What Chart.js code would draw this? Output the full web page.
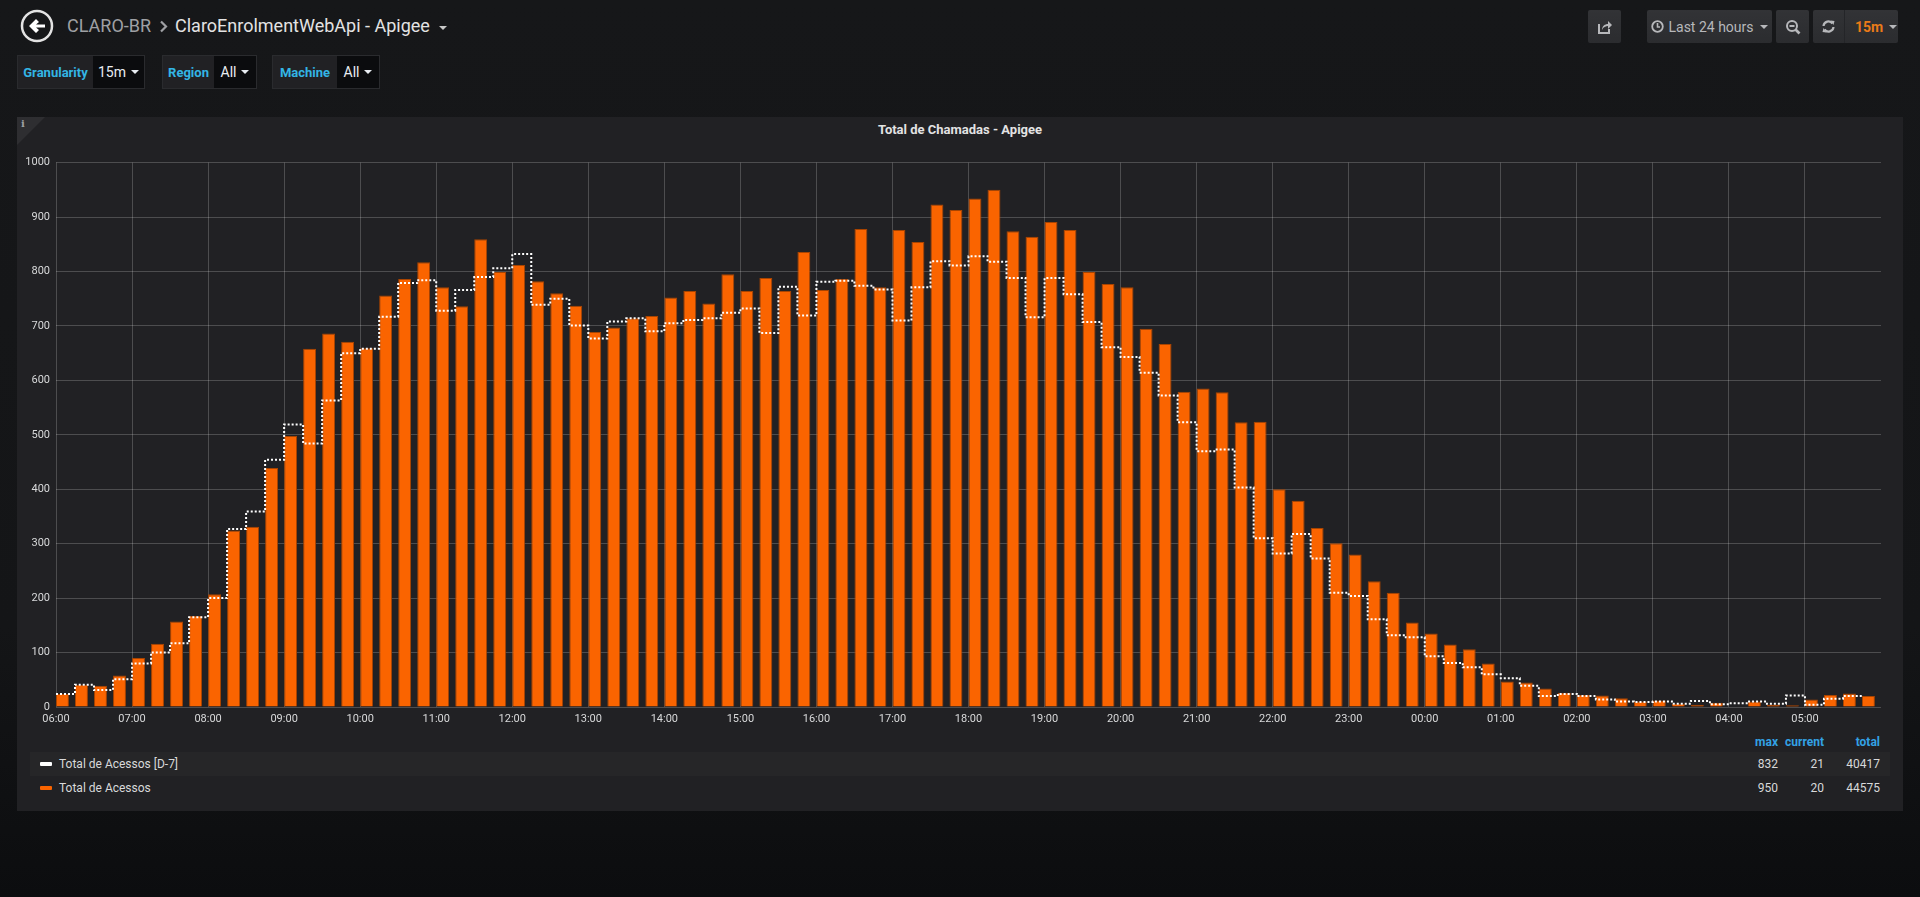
<!DOCTYPE html>
<html>
<head>
<meta charset="utf-8">
<title>ClaroEnrolmentWebApi - Apigee</title>
<script src="https://cdn.jsdelivr.net/npm/chart.js@4.4.0/dist/chart.umd.min.js"></script>
<style>
  html, body { margin: 0; padding: 0; }
  body {
    width: 1920px; height: 897px; overflow: hidden; position: relative;
    background: linear-gradient(#161719 0%, #141517 70%, #0c0d0f 100%);
    font-family: Roboto, "Helvetica Neue", Arial, sans-serif;
    color: #d8d9da;
  }
  .abs { position: absolute; }
  .crumb { left: 67px; top: 13px; height: 26px; line-height: 26px; font-size: 18px; white-space: nowrap; }
  .crumb .folder { color: #9fa0a4; }
  .caret { display: inline-block; width: 0; height: 0; border-left: 4px solid transparent; border-right: 4px solid transparent; border-top: 4px solid #c8c8c8; vertical-align: middle; }
  .var { top: 55px; height: 34px; display: flex; font-size: 13px; }
  .var .lbl { background: #212124; color: #33b5e5; font-weight: bold; display: flex; align-items: center; justify-content: center; border: 1px solid #2a2b2e; border-right: none; box-sizing: border-box; }
  .var .val { background: #0b0c0e; color: #e9edf2; display: flex; align-items: center; justify-content: center; font-size: 14px; border: 1px solid #2a2b2e; border-left: none; box-sizing: border-box; }
  .var .val .caret { margin-left: 5px; border-top-color: #e9edf2; }
  .btn { top: 10px; height: 33px; background: linear-gradient(#323336, #2b2c2f); border-radius: 2px; display: flex; align-items: center; justify-content: center; color: #b7b8bb; font-size: 14px; box-sizing: border-box; }
  .panel { left: 17px; top: 117px; width: 1886px; height: 694px; background: #212124; }
  .corner { left: 17px; top: 117px; width: 0; height: 0; border-top: 28px solid #2e2e31; border-right: 28px solid transparent; }
  .info { left: 21px; top: 118px; font-size: 10px; color: #9fa0a4; font-family: "DejaVu Serif", serif; font-weight: bold; }
  .ptitle { left: 17px; width: 1886px; top: 122px; text-align: center; font-size: 13px; font-weight: bold; color: #e3e3e3; }
  #chartBox { position: absolute; left: 17px; top: 150px; width: 1886px; height: 579px; }
  .lg { font-size: 12px; line-height: 24px; height: 24px; white-space: nowrap; }
  .lg .num { position: absolute; text-align: right; }
  .lgHead { color: #33a2e5; font-weight: bold; }
  .sw { position: absolute; top: 10px; width: 12px; height: 4px; border-radius: 1px; }
</style>
</head>
<body>

<!-- header -->
<svg class="abs" style="left:20px;top:9px" width="34" height="34" viewBox="0 0 34 34">
  <circle cx="17" cy="17" r="15" fill="none" stroke="#e3e3e3" stroke-width="2.5"/>
  <path d="M9 17 L16 10 L19 13 L16 15.5 L25 15.5 L25 18.5 L16 18.5 L19 21 L16 24 Z" fill="#ffffff"/>
</svg>
<div class="abs crumb"><span class="folder">CLARO-BR</span></div>
<svg class="abs" style="left:159px;top:20px" width="10" height="13" viewBox="0 0 10 13">
  <path d="M2 1.5 L7 6.5 L2 11.5" fill="none" stroke="#9fa0a4" stroke-width="2.2"/>
</svg>
<div class="abs crumb" style="left:175px;color:#e3e3e3">ClaroEnrolmentWebApi - Apigee</div>
<div class="abs" style="left:439px;top:17px"><span class="caret" style="border-top-color:#c8c8c8"></span></div>

<div class="abs var" style="left:17px"><div class="lbl" style="width:76px">Granularity</div><div class="val" style="width:52px">15m<span class="caret"></span></div></div>
<div class="abs var" style="left:162px"><div class="lbl" style="width:52px">Region</div><div class="val" style="width:43px">All<span class="caret"></span></div></div>
<div class="abs var" style="left:272px"><div class="lbl" style="width:65px">Machine</div><div class="val" style="width:43px">All<span class="caret"></span></div></div>

<div class="abs btn" style="left:1588px;width:33px">
  <svg width="16" height="16" viewBox="0 0 16 16"><path d="M2 5 L2 14 L12 14 L12 10" fill="none" stroke="#b7b8bb" stroke-width="2"/><path d="M5 11 C5 7 8 5 11 5 L11 2 L15 6 L11 10 L11 7 C9 7 6 8 5 11 Z" fill="#b7b8bb"/></svg>
</div>
<div class="abs btn" style="left:1647px;width:125px">
  <svg width="13" height="13" viewBox="0 0 13 13" style="margin-right:4px"><circle cx="6.5" cy="6.5" r="5.3" fill="none" stroke="#b7b8bb" stroke-width="1.8"/><path d="M6.5 3 L6.5 7 L9 7" fill="none" stroke="#b7b8bb" stroke-width="1.6"/></svg>
  <span>Last 24 hours</span><span class="caret" style="margin-left:6px;border-top-color:#b7b8bb"></span>
</div>
<div class="abs btn" style="left:1776px;width:33px">
  <svg width="16" height="16" viewBox="0 0 16 16"><circle cx="7" cy="7" r="5" fill="none" stroke="#b7b8bb" stroke-width="2"/><path d="M4.5 7 L9.5 7" stroke="#b7b8bb" stroke-width="2"/><path d="M10.5 10.5 L14.5 14.5" stroke="#b7b8bb" stroke-width="2.6"/></svg>
</div>
<div class="abs btn" style="left:1813px;width:85px;justify-content:flex-start">
  <div style="width:31px;height:33px;display:flex;align-items:center;justify-content:center;border-right:1px solid #242528">
    <svg width="15" height="15" viewBox="0 0 15 15"><path d="M2.5 7 A5 5 0 0 1 11.5 4.5" fill="none" stroke="#b7b8bb" stroke-width="2.2"/><path d="M9.5 1.5 L13.5 2 L12.5 6 Z" fill="#b7b8bb"/><path d="M12.5 8 A5 5 0 0 1 3.5 10.5" fill="none" stroke="#b7b8bb" stroke-width="2.2"/><path d="M5.5 13.5 L1.5 13 L2.5 9 Z" fill="#b7b8bb"/></svg>
  </div>
  <span style="color:#eb7b18;font-weight:bold;margin-left:10px">15m</span><span class="caret" style="margin-left:6px;border-top-color:#b7b8bb"></span>
</div>

<!-- panel -->
<div class="abs panel"></div>
<div class="abs corner"></div>
<div class="abs info">i</div>
<div class="abs ptitle">Total de Chamadas - Apigee</div>
<div id="chartBox"><canvas id="myChart"></canvas></div>
<div id="legend"></div>

<script>
// x axis labels, one every hour (4 buckets of 15m)
var hourLabels = ['06:00', '07:00', '08:00', '09:00', '10:00', '11:00', '12:00', '13:00',
  '14:00', '15:00', '16:00', '17:00', '18:00', '19:00', '20:00', '21:00', '22:00', '23:00',
  '00:00', '01:00', '02:00', '03:00', '04:00', '05:00'];

// Total de Acessos, 15m buckets from 06:00
var acessos = [
  24, 41, 39, 58,   90, 116, 157, 167,   207, 324, 331, 439,   498, 658, 686, 671,
  659, 756, 786, 817,   771, 736, 859, 799,   812, 782, 760, 737,   689, 697, 714, 718,
  752, 764, 741, 795,   764, 788, 764, 836,   766, 786, 878, 771,   876, 854, 923, 913,
  934, 950, 874, 864,   891, 876, 799, 777,   771, 695, 667, 579,   585, 578, 523, 524,
  400, 379, 329, 301,   280, 231, 210, 155,   135, 115, 106, 80,   47, 45, 34, 26,
  22, 21, 16, 10,   12, 6, 4, 8,   1, 10, 4, 3,   14, 22, 25, 20
];

// Total de Acessos [D-7]
var acessosD7 = [
  24, 41, 31, 51,   80, 100, 117, 165,   200, 327, 359, 454,   519, 484, 563, 650,
  658, 717, 779, 784,   728, 766, 790, 806,   832, 739, 750, 701,   677, 708, 714, 690,
  705, 711, 714, 724,   732, 687, 772, 719,   781, 783, 774, 767,   710, 771, 819, 811,
  828, 818, 788, 716,   788, 758, 707, 661,   643, 614, 572, 523,   470, 473, 403, 310,
  282, 318, 273, 210,   204, 161, 132, 128,   93, 81, 73, 60,   53, 39, 20, 24,
  20, 14, 10, 9,   10, 6, 11, 5,   7, 10, 6, 21,   4, 15, 20, 21
];

// legend table
var legendNames = ['Total de Acessos [D-7]', 'Total de Acessos'];
var legendColors = ['#ffffff', '#fa6400'];
var legendMax = [832, 950];
var legendCurrent = [21, 20];
var legendTotal = [40417, 44575];

var BAR_FRAC = 0.68; // bar width as part of the 15m slot, left aligned on the slot

function buildLegend() {
  var html = '<div class="abs lg lgHead" style="left:0;top:730px;width:1920px">' +
    '<span class="num" style="right:142px">max</span>' +
    '<span class="num" style="right:96px">current</span>' +
    '<span class="num" style="right:40px">total</span></div>';
  legendNames.forEach(function (name, i) {
    var top = 752 + i * 24;
    var bg = i === 0 ? 'background:#262628;' : '';
    html += '<div class="abs lg" style="left:30px;top:' + top + 'px;width:1860px;' + bg + '">' +
      '<span class="sw" style="left:10px;background:' + legendColors[i] + '"></span>' +
      '<span style="position:absolute;left:29px">' + name + '</span>' +
      '<span class="num" style="right:112px">' + legendMax[i] + '</span>' +
      '<span class="num" style="right:66px">' + legendCurrent[i] + '</span>' +
      '<span class="num" style="right:10px">' + legendTotal[i] + '</span></div>';
  });
  document.getElementById('legend').innerHTML = html;
}

function generateChart() {
  var gridColor = 'rgba(255,255,255,0.2)';
  var barData = acessos.map(function (v, i) { return { x: i + BAR_FRAC / 2, y: v }; });
  var lineData = acessosD7.map(function (v, i) { return { x: i, y: v }; });
  var slots = acessos.length;

  var config = {
    type: 'bar',
    data: {
      datasets: [
        {
          type: 'line',
          label: legendNames[0],
          data: lineData,
          order: 0,
          stepped: true,
          borderColor: '#ffffff',
          borderWidth: 2,
          borderDash: [2, 2],
          pointRadius: 0,
          fill: false
        },
        {
          type: 'bar',
          label: legendNames[1],
          data: barData,
          order: 1,
          backgroundColor: '#fa6400',
          borderColor: '#a94400',
          borderWidth: 1,
          barPercentage: BAR_FRAC,
          categoryPercentage: 1
        }
      ]
    },
    options: {
      responsive: true,
      maintainAspectRatio: false,
      animation: false,
      layout: { padding: { top: 7, right: 22, bottom: 0, left: 0 } },
      plugins: { legend: { display: false }, tooltip: { enabled: false }, title: { display: false } },
      scales: {
        x: {
          type: 'linear',
          min: 0,
          max: slots,
          offset: false,
          grid: {
            offset: false,
            drawTicks: false,
            color: function (ctx) { return ctx.tick && ctx.tick.value >= slots ? 'rgba(0,0,0,0)' : gridColor; }
          },
          border: { display: false },
          ticks: {
            stepSize: 4,
            maxTicksLimit: 30,
            autoSkip: false,
            maxRotation: 0,
            padding: 6,
            color: '#d8d9da',
            font: { family: 'Roboto', size: 11 },
            callback: function (value) {
              var label = hourLabels[value / 4];
              return label === undefined ? '' : label;
            }
          },
          afterFit: function (scale) { scale.height = 22; }
        },
        y: {
          min: 0,
          max: 1000,
          grid: { color: gridColor, drawTicks: false },
          border: { display: false },
          ticks: {
            stepSize: 100,
            padding: 6,
            color: '#d8d9da',
            font: { family: 'Roboto', size: 11 },
            callback: function (value) { return String(value); }
          },
          afterFit: function (scale) { scale.width = 39; }
        }
      }
    }
  };
  new Chart(document.getElementById('myChart'), config);
}

buildLegend();
generateChart();
</script>
</body>
</html>
